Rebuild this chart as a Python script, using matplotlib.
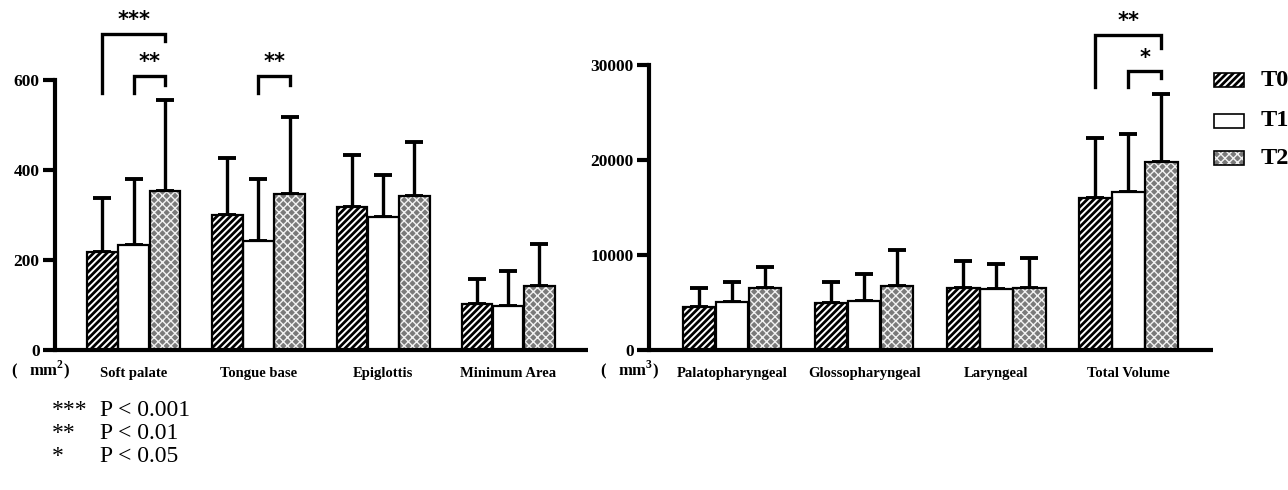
import numpy as np
import matplotlib.pyplot as plt
from matplotlib.patches import Rectangle

# data
area_labels = ['Soft palate', 'Tongue base', 'Epiglottis', 'Minimum Area']
area_mean = {'T0': [218, 300, 318, 102],
             'T1': [233, 243, 295, 98],
             'T2': [354, 347, 342, 142]}
area_sd = {'T0': [119, 126, 116, 56],
           'T1': [147, 137, 94, 77],
           'T2': [202, 171, 120, 93]}

vol_labels = ['Palatopharyngeal', 'Glossopharyngeal', 'Laryngeal', 'Total Volume']
vol_mean = {'T0': [4560, 4950, 6500, 16000],
            'T1': [5050, 5160, 6400, 16650],
            'T2': [6520, 6700, 6500, 19780]}
vol_sd = {'T0': [1960, 2240, 2900, 6300],
          'T1': [2110, 2840, 2700, 6050],
          'T2': [2250, 3800, 3200, 7170]}

groups = ['T0', 'T1', 'T2']
styles = {'T0': dict(facecolor='white', edge='black', hatch='/////', hatch_lw=2.0),
          'T1': dict(facecolor='white', edge='white', hatch=None, hatch_lw=1.0),
          'T2': dict(facecolor='#7a7a7a', edge='#f2f2f2', hatch='xxxx', hatch_lw=1.0)}

serif = ['Liberation Serif', 'DejaVu Serif']
plt.rcParams['font.family'] = serif

fig = plt.figure(figsize=(12.88, 4.9), dpi=100)
ax1 = fig.add_axes([55/1288, 140/490, 533/1288, 270/490])
ax2 = fig.add_axes([649/1288, 140/490, 564/1288, 285/490])

w = 0.245
offs = [-0.25, 0, 0.25]


def hatch_lw(patch, lw):
    try:
        patch.set_hatch_linewidth(lw)
    except AttributeError:
        pass


def draw_panel(ax, labels, mean, sd, ymax, yticks):
    x = np.arange(len(labels))
    for k, g in enumerate(groups):
        st = styles[g]
        bars = ax.bar(x + offs[k], mean[g], w, facecolor=st['facecolor'],
                      edgecolor=st['edge'], hatch=st['hatch'], linewidth=0, zorder=2)
        for b in bars:
            hatch_lw(b, st['hatch_lw'])
        ax.bar(x + offs[k], mean[g], w, fill=False, edgecolor='black',
               linewidth=1.6, zorder=3)
        ax.errorbar(x + offs[k], mean[g], yerr=[np.zeros(len(x)), sd[g]],
                    fmt='none', ecolor='black', elinewidth=2.4, capsize=6.5,
                    capthick=2.8, zorder=1)
    ax.set_xlim(-0.63, 3.64)
    ax.set_ylim(0, ymax)
    ax.set_yticks(yticks)
    ax.set_xticks(x)
    ax.set_xticklabels(labels, fontweight='bold', fontsize=10.5)
    ax.tick_params(axis='x', length=0, pad=12)
    ax.tick_params(axis='y', length=9, width=3, labelsize=12.5, pad=2)
    for t in ax.get_yticklabels():
        t.set_fontweight('bold')
    for s in ['top', 'right']:
        ax.spines[s].set_visible(False)
    ax.spines['left'].set_linewidth(3)
    ax.spines['bottom'].set_linewidth(3)
    ax.spines['left'].set_capstyle('projecting')
    ax.spines['bottom'].set_capstyle('butt')


draw_panel(ax1, area_labels, area_mean, area_sd, 600, [0, 200, 400, 600])
draw_panel(ax2, vol_labels, vol_mean, vol_sd, 30000, [0, 10000, 20000, 30000])


def bracket(ax, x1, x2, top, b1, b2, txt, ty):
    ax.plot([x1, x1, x2, x2], [b1, top, top, b2], color='black', lw=2.4,
            clip_on=False, solid_joinstyle='miter')
    ax.text((x1 + x2) / 2, ty, txt, ha='center', va='center', fontsize=15,
            fontweight='bold', family='DejaVu Sans', clip_on=False)


bracket(ax1, 0 + offs[0], 0 + offs[2], 702, 571, 687, '***', 733)
bracket(ax1, 0 + offs[1], 0 + offs[2], 609, 571, 589, '**', 640)
bracket(ax1, 1 + offs[1], 1 + offs[2], 609, 571, 589, '**', 640)
bracket(ax2, 3 + offs[0], 3 + offs[2], 33160, 27680, 31800, '**', 34600)
bracket(ax2, 3 + offs[1], 3 + offs[2], 29370, 27680, 28630, '*', 30700)

# unit labels
plt.rcParams['mathtext.fontset'] = 'custom'
plt.rcParams['mathtext.bf'] = 'Liberation Serif:bold'
plt.rcParams['mathtext.rm'] = 'Liberation Serif'
fig.text(11/1288, 1 - 370/490, r'(   mm$^{\mathbf{2}}$)', fontsize=12,
         fontweight='bold', va='center')
fig.text(600/1288, 1 - 370/490, r'(   mm$^{\mathbf{3}}$)', fontsize=12,
         fontweight='bold', va='center')

# legend, drawn by hand so the hatching matches the bars
leg_y = [80, 121, 158]
for g, yy in zip(groups, leg_y):
    st = styles[g]
    r = Rectangle((1214/1288, 1 - (yy + 7)/490), 30/1288, 14/490,
                  transform=fig.transFigure, facecolor=st['facecolor'],
                  edgecolor=st['edge'], hatch=st['hatch'], linewidth=0)
    hatch_lw(r, st['hatch_lw'])
    fig.add_artist(r)
    fig.add_artist(Rectangle((1214/1288, 1 - (yy + 7)/490), 30/1288, 14/490,
                             transform=fig.transFigure, fill=False,
                             edgecolor='black', linewidth=1.2))
    fig.text(1261/1288, 1 - yy/490, g, fontsize=17.5, fontweight='bold', va='center')

# p-value key
keys = ['***', '**', '*']
pvals = ['P < 0.001', 'P < 0.01', 'P < 0.05']
for i in range(3):
    yy = 1 - (411 + 22.5*i)/490
    fig.text(52/1288, yy, keys[i], fontsize=17, va='center')
    fig.text(100/1288, yy, pvals[i], fontsize=17, va='center')

fig.savefig('out.png', dpi=100)
